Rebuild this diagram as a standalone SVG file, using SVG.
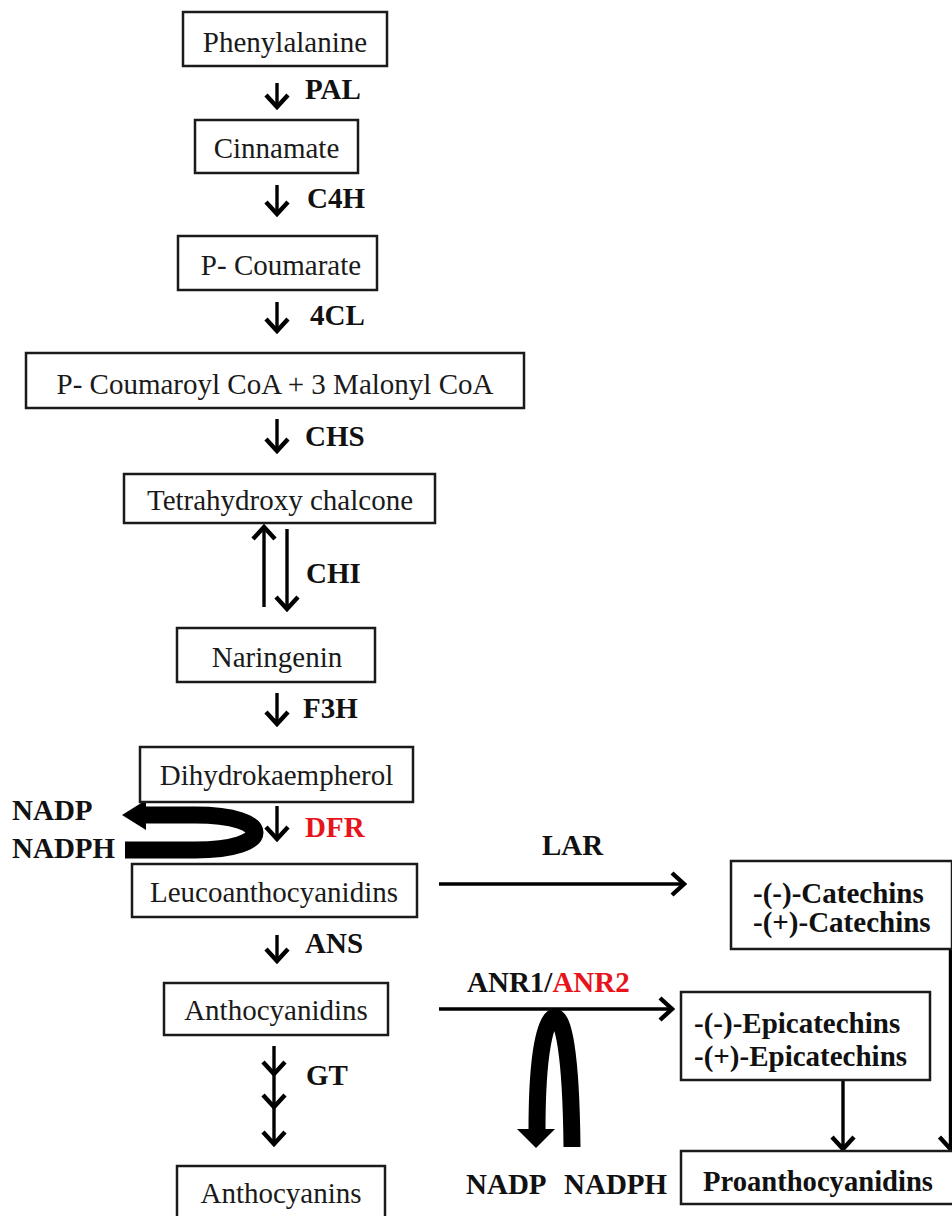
<svg xmlns="http://www.w3.org/2000/svg" width="952" height="1216" viewBox="0 0 952 1216">
<style>
.box{fill:#fff;stroke:#1a1a1a;stroke-width:2.5}
.t{font-family:"Liberation Serif","Times New Roman",serif;font-size:29px;fill:#1a1a1a;text-anchor:middle}
.s{font-family:"Liberation Serif","Times New Roman",serif;font-size:29px;fill:#111;font-weight:bold}
.red{fill:#e8141c}
.c{stroke:#000;stroke-width:3.4;fill:none}
.thick{stroke:#000;stroke-width:17;fill:none}
</style>
<defs>
<marker id="ah" markerUnits="userSpaceOnUse" viewBox="-16 -14 19 28" markerWidth="19" markerHeight="28" refX="0" refY="0" orient="auto">
<path d="M-12,-11 L0,0 L-12,11" fill="none" stroke="#000" stroke-width="4.4"/>
</marker>
</defs>

<g id="connectors">
<line class="c" x1="277" y1="83" x2="277" y2="107" marker-end="url(#ah)"/>
<line class="c" x1="277" y1="185" x2="277" y2="214" marker-end="url(#ah)"/>
<line class="c" x1="277" y1="302" x2="277" y2="331" marker-end="url(#ah)"/>
<line class="c" x1="277" y1="419" x2="277" y2="451" marker-end="url(#ah)"/>
<line class="c" x1="264" y1="607" x2="264" y2="527" marker-end="url(#ah)"/>
<line class="c" x1="287" y1="529" x2="287" y2="609" marker-end="url(#ah)"/>
<line class="c" x1="277" y1="693" x2="277" y2="724" marker-end="url(#ah)"/>
<line class="c" x1="277" y1="806" x2="277" y2="839" marker-end="url(#ah)"/>
<line class="c" x1="277" y1="935" x2="277" y2="961" marker-end="url(#ah)"/>
<polyline class="c" points="274,1046 274,1074 274,1107 274,1144" marker-mid="url(#ah)" marker-end="url(#ah)"/>
<line class="c" x1="439" y1="884" x2="684" y2="884" marker-end="url(#ah)"/>
<line class="c" x1="439" y1="1009" x2="672" y2="1009" marker-end="url(#ah)"/>
<line class="c" x1="843" y1="1080" x2="843" y2="1149" marker-end="url(#ah)"/>
<line class="c" x1="950.5" y1="949" x2="950.5" y2="1149" marker-end="url(#ah)"/>
<path class="thick" d="M125,850 H195 C275,850 275,815 195,815 H143"/>
<polygon points="122,815 146,800 146,830" fill="#000"/>
<path class="thick" d="M572,1147 C571,1050 563,1017 554.5,1017 C546,1017 537,1050 537,1130"/>
<polygon points="517,1129 555,1129 536,1148" fill="#000"/>
</g>

<g id="phenylalanine"><rect class="box" x="183" y="12" width="204" height="54"/><text class="t" x="285" y="52">Phenylalanine</text></g>
<g id="cinnamate"><rect class="box" x="195" y="120" width="163" height="53"/><text class="t" x="276.5" y="158">Cinnamate</text></g>
<g id="p-coumarate"><rect class="box" x="178" y="236" width="199" height="54"/><text class="t" x="281" y="275">P- Coumarate</text></g>
<g id="p-coumaroyl-coa"><rect class="box" x="26" y="353" width="498" height="55"/><text class="t" x="275" y="394">P- Coumaroyl CoA + 3 Malonyl CoA</text></g>
<g id="tetrahydroxy-chalcone"><rect class="box" x="124" y="474" width="311" height="49"/><text class="t" x="280" y="510">Tetrahydroxy chalcone</text></g>
<g id="naringenin"><rect class="box" x="177" y="628" width="198" height="54"/><text class="t" x="277" y="667">Naringenin</text></g>
<g id="dihydrokaempherol"><rect class="box" x="140" y="747" width="273" height="55"/><text class="t" x="276.5" y="785">Dihydrokaempherol</text></g>
<g id="leucoanthocyanidins"><rect class="box" x="132" y="864" width="285" height="53"/><text class="t" x="274" y="902">Leucoanthocyanidins</text></g>
<g id="anthocyanidins"><rect class="box" x="164" y="983" width="224" height="52"/><text class="t" x="276" y="1020">Anthocyanidins</text></g>
<g id="anthocyanins"><rect class="box" x="177" y="1166" width="208" height="60"/><text class="t" x="281" y="1203">Anthocyanins</text></g>
<g id="catechins"><rect class="box" x="731" y="861" width="221" height="88"/><text class="s" x="753" y="903">-(-)-Catechins</text><text class="s" x="753" y="932">-(+)-Catechins</text></g>
<g id="epicatechins"><rect class="box" x="681" y="992" width="249" height="88"/><text class="s" x="694" y="1033">-(-)-Epicatechins</text><text class="s" x="694" y="1066">-(+)-Epicatechins</text></g>
<g id="proanthocyanidins"><rect class="box" x="681" y="1151" width="280" height="53"/><text class="s" x="703" y="1191" textLength="230" lengthAdjust="spacingAndGlyphs">Proanthocyanidins</text></g>

<g id="labels">
<text class="s" x="305" y="99">PAL</text>
<text class="s" x="307" y="208">C4H</text>
<text class="s" x="310" y="325">4CL</text>
<text class="s" x="305" y="446">CHS</text>
<text class="s" x="306" y="583">CHI</text>
<text class="s" x="303" y="718">F3H</text>
<text class="s red" x="305" y="837">DFR</text>
<text class="s" x="305" y="953">ANS</text>
<text class="s" x="306" y="1085">GT</text>
<text class="s" x="542" y="855">LAR</text>
<text class="s" x="467" y="992">ANR1/<tspan class="red">ANR2</tspan></text>
<text class="s" x="12" y="820">NADP</text>
<text class="s" x="12" y="858">NADPH</text>
<text class="s" x="466" y="1194">NADP</text>
<text class="s" x="564" y="1194">NADPH</text>
</g>
</svg>
